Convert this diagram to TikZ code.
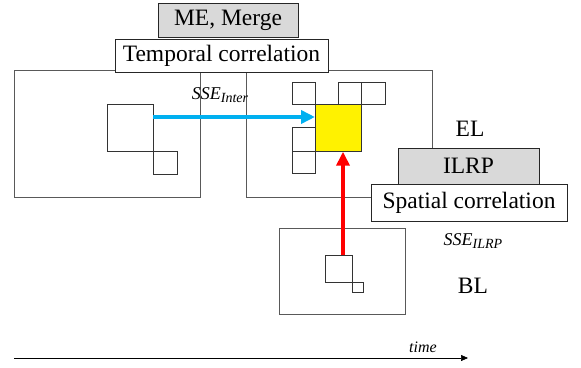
\documentclass[tikz,border=0pt]{standalone}
\usepackage{fontspec}
\setmainfont{Liberation Serif}
\usetikzlibrary{arrows.meta}

\definecolor{framegray}{HTML}{595959}
\definecolor{boxgray}{HTML}{D9D9D9}
\definecolor{sseblue}{HTML}{00B0F0}

\newcommand{\ssename}[1]{\textit{SSE}\raisebox{-0.3ex}{\fontsize{14}{16}\selectfont\textit{#1}}}

\tikzset{
  frame/.style={draw=framegray, line width=0.8pt},
  blk/.style={draw=black!80, line width=0.7pt},
  labelbox/.style={draw=black!85, fill=white, line width=0.8pt, inner sep=0pt,
    font=\fontsize{23.5}{26}\selectfont},
  graybox/.style={labelbox, fill=boxgray},
  flow/.style={line width=4.5pt, -{Triangle[length=14pt,width=13pt]}}
}

\begin{document}
\begin{tikzpicture}[x=1pt,y=-1pt]
    \useasboundingbox (0,0) rectangle (581,367);

    % frames of the two EL pictures and the BL picture
    \draw[frame] (14,70) rectangle (200,197);
    \draw[frame] (246,70) rectangle (432,197);
    \draw[frame] (279,228) rectangle (405,314);

    % blocks in the reference picture
    \draw[blk] (107,104) rectangle (153,151);
    \draw[blk] (153,151) rectangle (177,174);
    \coordinate (refout) at (153,117);

    % neighbouring blocks and the current block
    \draw[blk] (292,82) rectangle (315,104);
    \draw[blk] (338,82) rectangle (361,104);
    \draw[blk] (361,82) rectangle (385,104);
    \draw[blk] (292,127) rectangle (315,151);
    \draw[blk] (292,151) rectangle (315,173);
    \node[blk, fill=yellow, inner sep=0pt, minimum width=46pt, minimum height=47pt,
      anchor=north west] (cur) at (315,104) {};

    % co-located blocks in BL
    \draw[blk] (325,255) rectangle (352,282);
    \draw[blk] (352,282) rectangle (363,292);
    \coordinate (blout) at (343,255);

    % labels
    \node[graybox, minimum width=140pt, minimum height=34pt] (me) at (228,20) {ME, Merge};
    \node[labelbox, minimum width=213pt, minimum height=33pt] (temporal) at (221.5,55.5) {Temporal correlation};
    \node[graybox, minimum width=141pt, minimum height=36pt] (ilrp) at (468.5,166) {ILRP};
    \node[labelbox, minimum width=196pt, minimum height=37pt] (spatial) at (469,202.5) {Spatial correlation};

    \node[font=\fontsize{23.5}{26}\selectfont] (el) at (470,129) {EL};
    \node[font=\fontsize{23.5}{26}\selectfont] (bl) at (473,286) {BL};
    \node[font=\fontsize{18}{20}\selectfont] (sseinter) at (220,95) {\ssename{Inter}};
    \node[font=\fontsize{18}{20}\selectfont] (sseilrp) at (473,241) {\ssename{ILRP}};

    % predictions
    \draw[flow, draw=sseblue, fill=sseblue] (refout) -- (refout -| cur.west);
    \draw[flow, draw=red, fill=red] (blout) -- (blout |- cur.south);

    % time axis
    \coordinate (t0) at (14,358);
    \coordinate (t1) at (468,358);
    \draw[line width=0.6pt, -{Triangle[length=7pt,width=6pt]}] (t0) -- (t1);
    \node[font=\fontsize{16}{18}\selectfont\itshape] (time) at (423,347) {time};
\end{tikzpicture}
\end{document}
